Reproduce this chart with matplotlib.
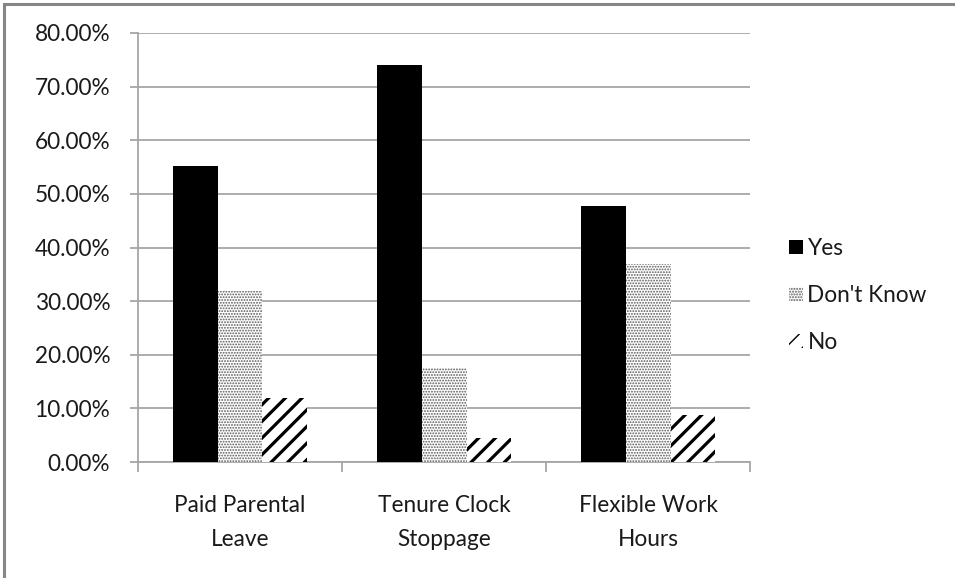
import numpy as np
import matplotlib.pyplot as plt
from matplotlib.patches import Rectangle, Patch
from matplotlib.ticker import FuncFormatter, FixedLocator

plt.rcParams['font.family'] = ['Lato', 'DejaVu Sans']
plt.rcParams['hatch.color'] = 'black'

categories = ["Paid Parental\nLeave", "Tenure Clock\nStoppage", "Flexible Work\nHours"]
series = ["Yes", "Don't Know", "No"]
yes = [55.2, 74.1, 47.7]
dont_know = [31.9, 17.6, 37.0]
no = [11.9, 4.5, 8.8]

grey = '#a6a6a6'
fs = 16.3
fig = plt.figure(figsize=(9.55, 5.78), dpi=100)
ax = fig.add_axes([0.1445, 0.2005, 0.641, 0.7425])

x = np.arange(len(categories))
w = 0.22
styles = [
    dict(color='black', hatch=None, hlw=1.0, hcol='black'),
    dict(color='white', hatch='......', hlw=0.9, hcol='#5a5a5a'),
    dict(color='white', hatch='//', hlw=2.3, hcol='black'),
]
handles = []
for i, (vals, st) in enumerate(zip([yes, dont_know, no], styles)):
    with plt.rc_context({'hatch.linewidth': st['hlw'], 'hatch.color': st['hcol']}):
        ax.bar(x + (i - 1) * w, np.array(vals) / 100, w,
               color=st['color'], hatch=st['hatch'], edgecolor=st['hcol'],
               linewidth=0, zorder=3)
        handles.append(Patch(facecolor=st['color'], hatch=st['hatch'],
                             edgecolor=st['hcol'], linewidth=0))

ax.set_xlim(-0.5, 2.5)
ax.set_ylim(0, 0.8)
ax.yaxis.set_major_locator(FixedLocator(np.arange(0, 0.81, 0.1)))
ax.yaxis.set_major_formatter(FuncFormatter(lambda v, p: f"{v * 100:.2f}%"))
ax.grid(axis='y', color=grey, linewidth=1.3, zorder=0)
ax.set_axisbelow(True)

ax.set_xticks(x)
ax.set_xticklabels(categories, linespacing=1.75)
ax.set_xticks([-0.5, 0.5, 1.5, 2.5], minor=True)
ax.tick_params(axis='x', which='major', length=0, pad=24, labelsize=fs, colors='#1a1a1a')
ax.tick_params(axis='x', which='minor', length=7, width=1.3, color=grey, direction='out')
ax.tick_params(axis='y', length=6, width=1.3, color=grey, pad=14, labelsize=fs,
               labelcolor='#1a1a1a')

for s in ['top', 'right']:
    ax.spines[s].set_visible(False)
for s in ['left', 'bottom']:
    ax.spines[s].set_color(grey)
    ax.spines[s].set_linewidth(1.3)

leg = ax.legend(handles, series, loc='center left', bbox_to_anchor=(1.064, 0.388),
                frameon=False, fontsize=fs, handlelength=0.6, handleheight=0.6,
                handletextpad=0.2, labelspacing=1.15, borderpad=0, borderaxespad=0)
for t in leg.get_texts():
    t.set_color('#1a1a1a')

# outer frame (only top and left edges show)
fig.patches.append(Rectangle((3.5 / 955, -0.1), 1.2, 1.1 - 4.5 / 578,
                             transform=fig.transFigure, fill=False,
                             edgecolor='#868686', linewidth=2.2))

fig.savefig('out.png', dpi=100)
